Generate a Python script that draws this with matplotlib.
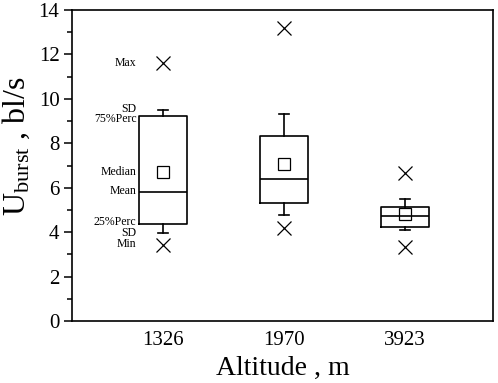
import matplotlib
matplotlib.use("Agg")
import matplotlib.pyplot as plt
from matplotlib.ticker import MultipleLocator

plt.rcParams['font.family'] = ['Liberation Serif', 'DejaVu Serif']
plt.rcParams['mathtext.fontset'] = 'custom'
plt.rcParams['mathtext.rm'] = 'Liberation Serif'
plt.rcParams['mathtext.it'] = 'Liberation Serif:italic'

categories = ['1326', '1970', '3923']
means = [6.72, 7.05, 4.80]
sds = [2.78, 2.29, 0.71]
medians = [5.80, 6.41, 4.74]
q1 = [4.38, 5.31, 4.22]
q3 = [9.23, 8.33, 5.12]
maxs = [11.6, 13.2, 6.64]
mins = [3.42, 4.19, 3.35]
annot_labels = ['Max', 'SD', '75%Perc', 'Median', 'Mean', '25%Perc', 'SD', 'Min']

W, H = 498, 383
fig = plt.figure(figsize=(W / 100, H / 100), dpi=100)
ax = fig.add_axes([72 / W, 1 - 321 / H, (493 - 72) / W, (321 - 10) / H])

positions = list(range(1, len(categories) + 1))
stats = []
for i in range(len(categories)):
    stats.append(dict(med=medians[i], q1=q1[i], q3=q3[i],
                      whislo=means[i] - sds[i], whishi=means[i] + sds[i],
                      fliers=[], label=categories[i]))

lw = 1.2
ax.bxp(stats, positions=positions, widths=0.40, showfliers=False,
       boxprops=dict(color='black', linewidth=lw),
       medianprops=dict(color='black', linewidth=lw),
       whiskerprops=dict(color='black', linewidth=lw),
       capprops=dict(color='black', linewidth=lw),
       capwidths=0.09)

ax.plot(positions, means, linestyle='none', marker='s', markersize=8,
        markerfacecolor='white', markeredgecolor='black', markeredgewidth=0.9)
ax.plot(positions, maxs, linestyle='none', marker='x', markersize=10,
        color='black', markeredgewidth=0.9)
ax.plot(positions, mins, linestyle='none', marker='x', markersize=10,
        color='black', markeredgewidth=0.9)

# annotations on the first box
xl = positions[0] - 0.22
yvals = [maxs[0], means[0] + sds[0], q3[0], means[0], medians[0], q1[0],
         means[0] - sds[0], mins[0]]
offs = [0, 1, -2.5, 0, 0.5, 1.5, 0, 0.5]
for lab, yv, off in zip(annot_labels, yvals, offs):
    ax.annotate(lab, xy=(xl, yv), xytext=(0, off), textcoords='offset points',
                ha='right', va='center', fontsize=8.5)

ax.set_xlim(0.248, 3.727)
ax.set_ylim(0, 14)
ax.set_xticks(positions)
ax.set_xticklabels(categories)
ax.yaxis.set_major_locator(MultipleLocator(2))
ax.yaxis.set_minor_locator(MultipleLocator(1))
ax.tick_params(axis='x', length=0, labelsize=15, pad=7)
ax.tick_params(axis='y', which='major', direction='out', length=6, width=1.1, labelsize=15, pad=3)
ax.tick_params(axis='y', which='minor', direction='out', length=3.5, width=1.1)
for s in ax.spines.values():
    s.set_linewidth(1.2)

fig.text(283 / W, 1 - 368 / H, 'Altitude , m', fontsize=20,
         ha='center', va='center')
fig.text(16 / W, 1 - 146 / H, r'U$_{\rm burst}$ , bl/s', fontsize=23,
         ha='center', va='center', rotation=90)

fig.savefig('out.png', dpi=100)
